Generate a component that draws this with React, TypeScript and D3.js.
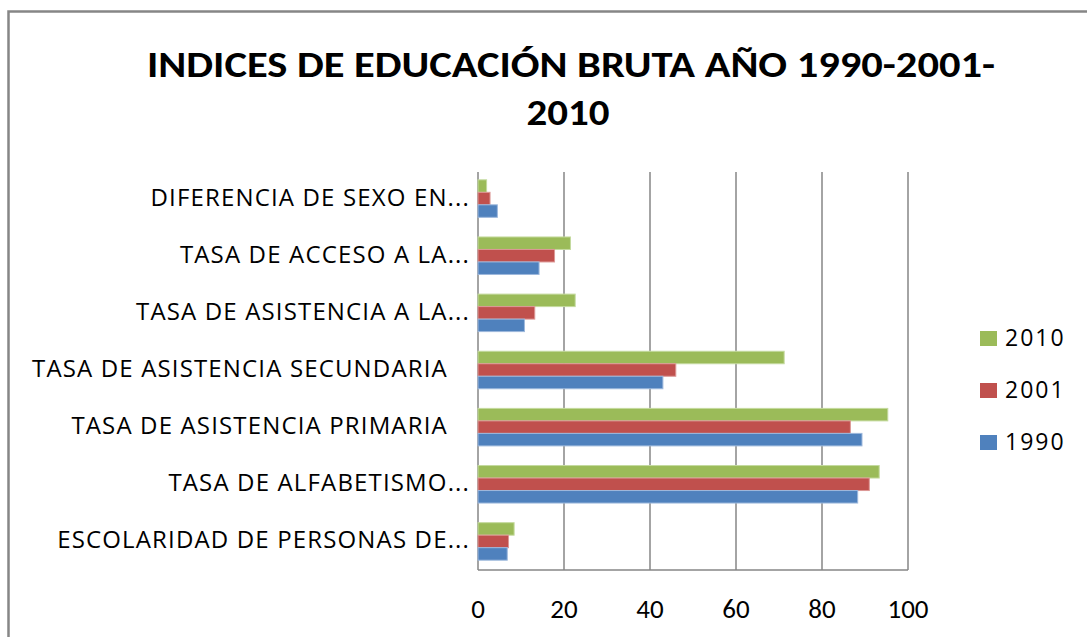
import React from "react";
import * as d3 from "d3";

const categories = [
  "DIFERENCIA DE SEXO EN...",
  "TASA DE ACCESO A LA...",
  "TASA DE ASISTENCIA A LA...",
  "TASA DE ASISTENCIA SECUNDARIA   ",
  "TASA DE ASISTENCIA PRIMARIA   ",
  "TASA DE ALFABETISMO...",
  "ESCOLARIDAD DE PERSONAS DE...",
];
const series = ["2010", "2001", "1990"];
const values2010 = [2.0, 21.5, 22.6, 71.2, 95.3, 93.3, 8.4];
const values2001 = [2.8, 17.8, 13.2, 46.0, 86.6, 91.0, 7.1];
const values1990 = [4.5, 14.2, 10.8, 43.0, 89.3, 88.3, 6.8];
const xTicks = [0, 20, 40, 60, 80, 100];
const colors = ["#9BBB59", "#C0504D", "#4F81BD"];
const strokes = ["#C4DA9E", "#DC9896", "#9DB8DC"];
const title1 = "INDICES DE EDUCACIÓN BRUTA AÑO 1990-2001-";
const title2 = "2010";

const W = 1087;
const H = 637;
const left = 478;
const right = 908;
const top = 170;
const bottom = 570;
const FONT = "Carlito, Lato, 'Open Sans', sans-serif";
const LABEL_FONT = "'Open Sans', sans-serif";

export default function App() {
  const x = d3.scaleLinear().domain([0, 100]).range([left, right]);
  const y = d3.scaleBand<string>().domain(categories).range([top, bottom]).padding(0);
  const groupH = 37.5;
  const inner = d3.scaleBand<string>().domain(series).range([0, groupH]).padding(0);
  const data = [values2010, values2001, values1990];

  return (
    <svg
      width={W}
      height={H}
      style={{ position: "absolute", left: 0, top: 0, background: "#fff" }}
      fontFamily={FONT}
    >
      <rect x={0} y={0} width={W} height={H} fill="#fff" />
      <rect x={8.5} y={11.5} width={W + 20} height={H + 20} fill="none" stroke="#868686" strokeWidth={2.5} />

      <text x={571} y={77} textAnchor="middle" fontSize={37} fontWeight="bold" textLength={848} lengthAdjust="spacingAndGlyphs">
        {title1}
      </text>
      <text x={568} y={125} textAnchor="middle" fontSize={37} fontWeight="bold" textLength={83} lengthAdjust="spacingAndGlyphs">
        {title2}
      </text>

      {xTicks.map((t) => (
        <line key={"g" + t} x1={x(t)} x2={x(t)} y1={top + 2} y2={bottom} stroke="#868686" strokeWidth={1.5} />
      ))}
      <line x1={left} x2={right} y1={bottom} y2={bottom} stroke="#868686" strokeWidth={1.5} />

      {categories.map((c, i) => {
        const y0 = (y(c) as number) + y.bandwidth() / 2 - groupH / 2;
        return (
          <g key={c}>
            {series.map((s, j) => (
              <rect
                key={s}
                x={x(0)}
                y={y0 + (inner(s) as number)}
                width={x(data[j][i]) - x(0)}
                height={inner.bandwidth()}
                fill={colors[j]}
                stroke={strokes[j]}
                strokeWidth={1}
              />
            ))}
            <text
              x={470}
              y={(y(c) as number) + y.bandwidth() / 2 + 7}
              textAnchor="end"
              fontSize={24}
              fontFamily={LABEL_FONT}
              letterSpacing={1.15}
              fill="#000"
              style={{ whiteSpace: "pre" }}
            >
              {c}
            </text>
          </g>
        );
      })}

      {xTicks.map((t) => (
        <text key={"t" + t} x={x(t)} y={618} textAnchor="middle" fontSize={27} fill="#000">
          {t}
        </text>
      ))}

      {series.map((s, j) => (
        <g key={"l" + s}>
          <rect x={980} y={331 + j * 52} width={17} height={15} fill={colors[j]} />
          <text x={1005} y={346 + j * 52} fontSize={23} fontFamily={LABEL_FONT} letterSpacing={2} fill="#000">
            {s}
          </text>
        </g>
      ))}
    </svg>
  );
}
